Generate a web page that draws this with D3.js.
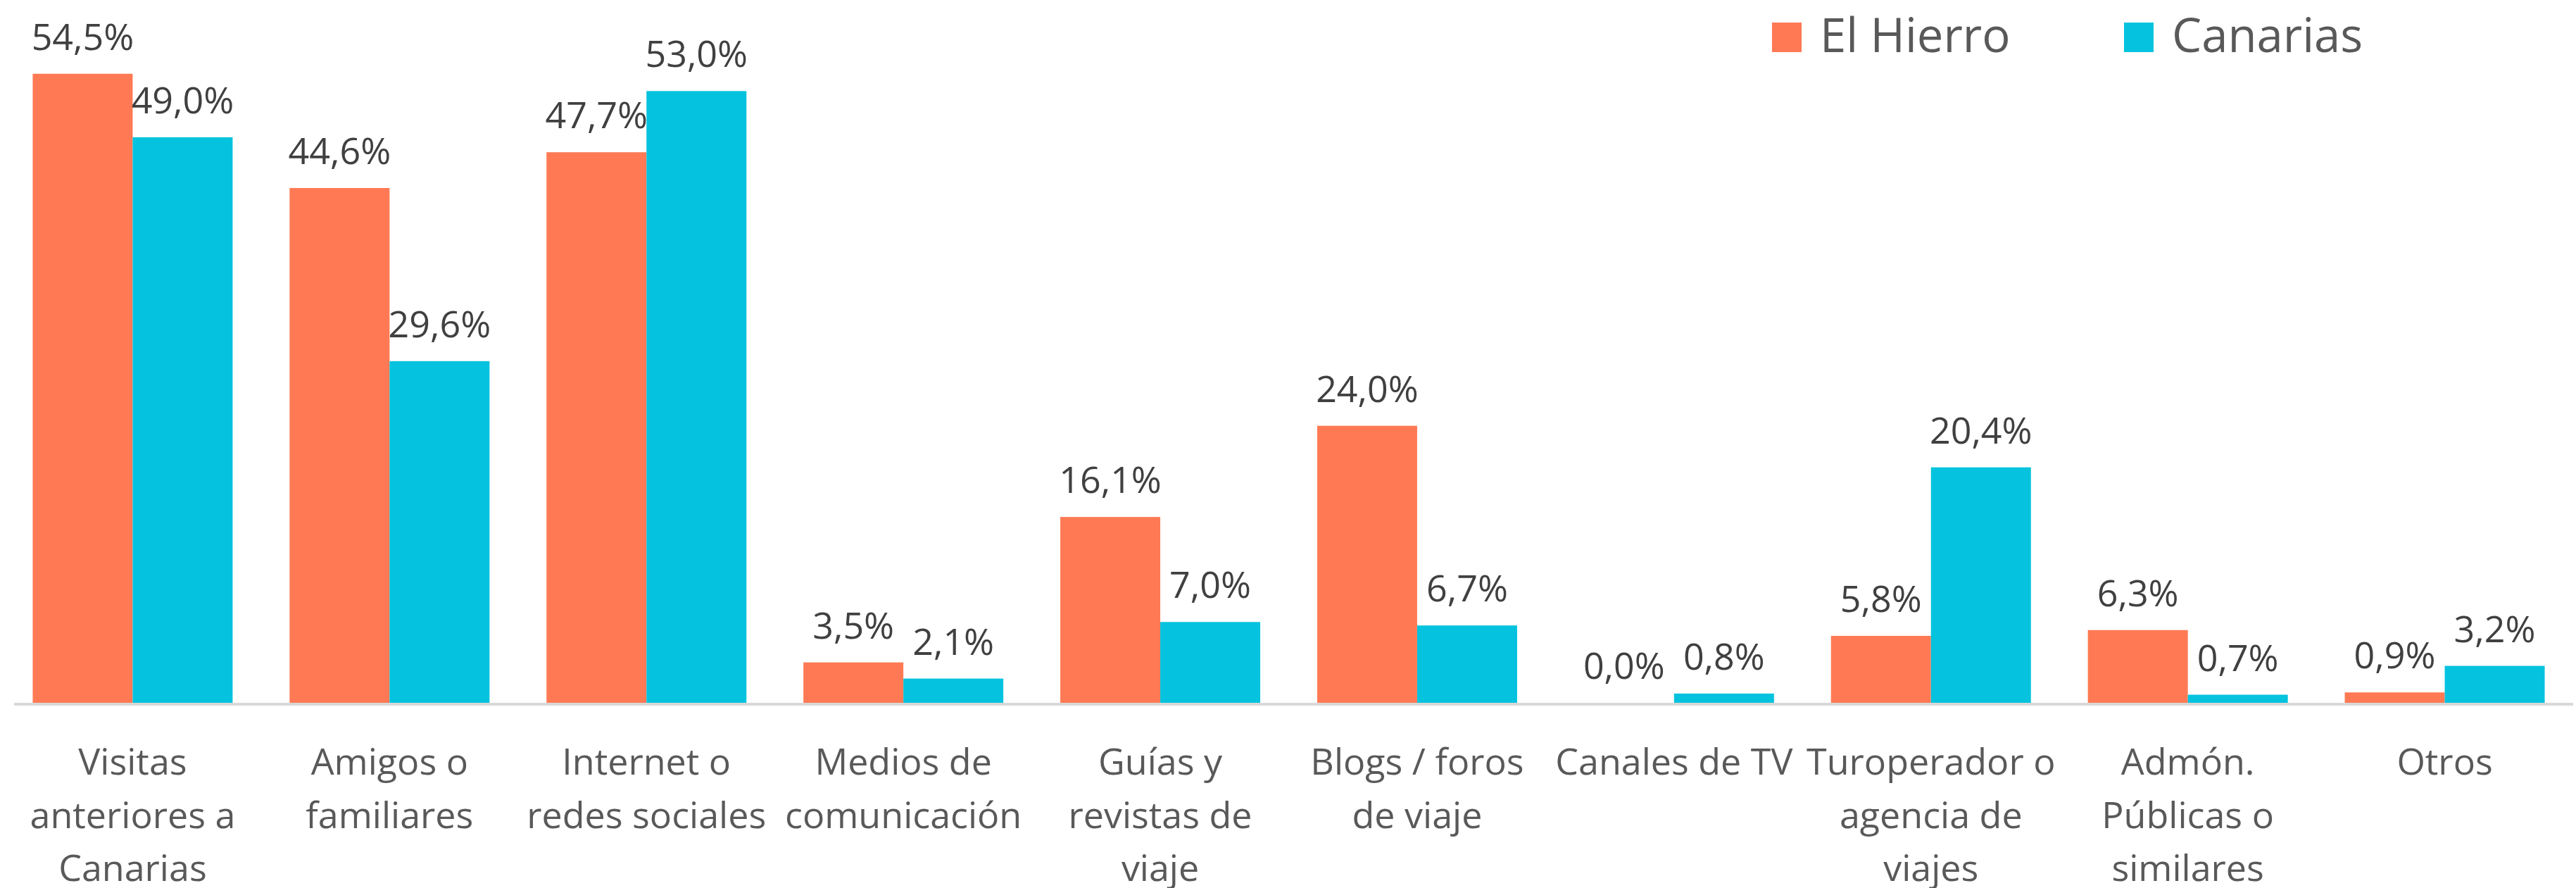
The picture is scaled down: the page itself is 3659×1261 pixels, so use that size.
<!DOCTYPE html>
<html>
<head>
<meta charset="utf-8">
<script src="https://cdn.jsdelivr.net/npm/d3@7"></script>
<style>
  html, body { margin: 0; padding: 0; background: #ffffff; }
  svg { display: block; }
  text { font-family: "Open Sans", "Noto Sans", sans-serif; }
</style>
</head>
<body>
<svg id="chart" width="3659" height="1261"></svg>
<script>
const categories = [
  "Visitas anteriores a Canarias",
  "Amigos o familiares",
  "Internet o redes sociales",
  "Medios de comunicación",
  "Guías y revistas de viaje",
  "Blogs / foros de viaje",
  "Canales de TV",
  "Turoperador o agencia de viajes",
  "Admón. Públicas o similares",
  "Otros"
];
const categoryLines = [
  ["Visitas", "anteriores a", "Canarias"],
  ["Amigos o", "familiares"],
  ["Internet o", "redes sociales"],
  ["Medios de", "comunicación"],
  ["Guías y", "revistas de", "viaje"],
  ["Blogs / foros", "de viaje"],
  ["Canales de TV"],
  ["Turoperador o", "agencia de", "viajes"],
  ["Admón.", "Públicas o", "similares"],
  ["Otros"]
];
const seriesNames = ["El Hierro", "Canarias"];
const elHierro = [54.5, 44.6, 47.7, 3.5, 16.1, 24.0, 0.0, 5.8, 6.3, 0.9];
const canarias = [49.0, 29.6, 53.0, 2.1, 7.0, 6.7, 0.8, 20.4, 0.7, 3.2];
const yDomain = [0, 60];

const colors = ["#FF7A54", "#05C3DE"];
const seriesValues = [elHierro, canarias];

const svg = d3.select("#chart");
svg.append("rect").attr("width", 3659).attr("height", 1261).attr("fill", "#ffffff");

const baseY = 998;
const y = d3.scaleLinear().domain(yDomain).range([baseY, baseY - 60 * 16.39]);
const x0 = d3.scaleBand().domain(categories).range([6, 3655]).paddingInner(0).paddingOuter(0);
const groupW = 284;
const x1 = d3.scaleBand().domain(seriesNames).range([0, groupW]).padding(0);
const groupOff = (x0.bandwidth() - groupW) / 2;

const rows = [];
categories.forEach((c, i) => {
  seriesNames.forEach((s, j) => {
    rows.push({ cat: c, series: s, idx: j, value: seriesValues[j][i] });
  });
});

const fmt = v => d3.format(".1f")(v).replace(".", ",") + "%";

const bars = svg.append("g");
bars.selectAll("rect").data(rows).enter().append("rect")
  .attr("x", d => x0(d.cat) + groupOff + x1(d.series))
  .attr("y", d => y(d.value))
  .attr("width", x1.bandwidth())
  .attr("height", d => baseY - y(d.value))
  .attr("fill", d => colors[d.idx]);

// axis line
svg.append("rect").attr("x", 20).attr("y", baseY).attr("width", 3655 - 20).attr("height", 4).attr("fill", "#d9d9d9");

// value labels
svg.append("g").selectAll("text").data(rows).enter().append("text")
  .attr("x", d => x0(d.cat) + groupOff + x1(d.series) + x1.bandwidth() / 2)
  .attr("y", d => y(d.value) - 34)
  .attr("text-anchor", "middle")
  .attr("font-size", 52)
  .attr("fill", "#404040")
  .text(d => fmt(d.value));

// category labels
const catG = svg.append("g");
categories.forEach((c, i) => {
  const cx = x0(c) + x0.bandwidth() / 2;
  const t = catG.append("text")
    .attr("text-anchor", "middle")
    .attr("font-size", 52)
    .attr("fill", "#595959");
  categoryLines[i].forEach((ln, k) => {
    t.append("tspan").attr("x", cx).attr("y", 1100 + k * 75.5).text(ln);
  });
});

// legend
const legendX = [2517, 3017];
const lg = svg.append("g");
seriesNames.forEach((s, j) => {
  lg.append("rect").attr("x", legendX[j]).attr("y", 32).attr("width", 42).attr("height", 42).attr("fill", colors[j]);
  lg.append("text").attr("x", legendX[j] + 68).attr("y", 74)
    .attr("font-size", 67).attr("fill", "#595959").text(s);
});
</script>
</body>
</html>
